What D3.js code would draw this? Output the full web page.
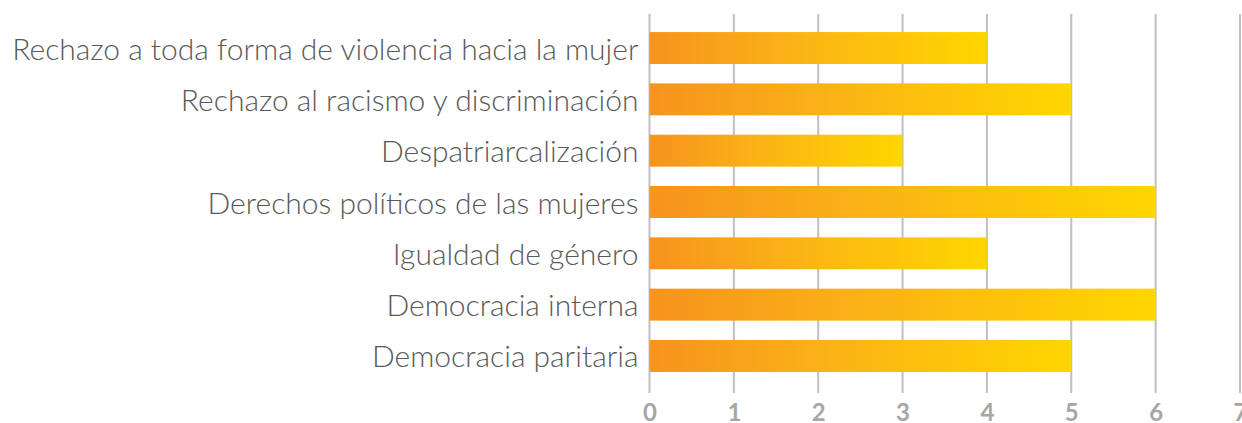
<!DOCTYPE html>
<html>
<head>
<meta charset="utf-8">
<script src="https://cdn.jsdelivr.net/npm/d3@7"></script>
<style>
  body { margin: 0; background: #fff; }
  svg { display: block; }
</style>
</head>
<body>
<svg id="chart"></svg>
<script>
// data, top to bottom
const categories = [
  "Rechazo a toda forma de violencia hacia la mujer",
  "Rechazo al racismo y discriminación",
  "Despatriarcalización",
  "Derechos políticos de las mujeres",
  "Igualdad de género",
  "Democracia interna",
  "Democracia paritaria"
];
const values = [4, 5, 3, 6, 4, 6, 5];
const tickValues = [0, 1, 2, 3, 4, 5, 6, 7];

const width = 1242, height = 423;

const svg = d3.select("#chart")
  .attr("width", width)
  .attr("height", height);

const xScale = d3.scaleLinear()
  .domain([0, 7])
  .range([649.5, 1240]);

const yScale = d3.scaleBand()
  .domain(categories)
  .range([22.3, 381.7])
  .paddingInner(0.377)
  .paddingOuter(0.19);

// gradient for bars
const defs = svg.append("defs");
const grad = defs.append("linearGradient")
  .attr("id", "barGrad")
  .attr("x1", "0%").attr("x2", "100%")
  .attr("y1", "0%").attr("y2", "0%");
grad.append("stop").attr("offset", "0%").attr("stop-color", "#F7931E");
grad.append("stop").attr("offset", "45%").attr("stop-color", "#FBB416");
grad.append("stop").attr("offset", "100%").attr("stop-color", "#FFD600");

// gridlines
svg.append("g")
  .selectAll("line")
  .data(tickValues)
  .enter()
  .append("line")
  .attr("x1", d => xScale(d))
  .attr("x2", d => xScale(d))
  .attr("y1", 14)
  .attr("y2", 393)
  .attr("stroke", "#BFBFBF")
  .attr("stroke-width", 2);

// bars
svg.append("g")
  .selectAll("rect")
  .data(categories)
  .enter()
  .append("rect")
  .attr("x", xScale(0))
  .attr("y", d => yScale(d))
  .attr("width", (d, i) => xScale(values[i]) - xScale(0))
  .attr("height", yScale.bandwidth())
  .attr("fill", "url(#barGrad)");

// category labels
const yAxis = svg.append("g")
  .attr("transform", `translate(${xScale(0) - 11}, 1)`)
  .call(d3.axisLeft(yScale).tickSize(0).tickPadding(0));
yAxis.select(".domain").remove();
yAxis.selectAll("text")
  .attr("dy", "0.35em")
  .style("font-family", "Lato")
  .style("font-weight", "300")
  .style("font-size", "30px")
  .style("fill", "#595959");

// x axis tick labels (cut by the bottom edge, as in the source)
const xAxis = svg.append("g")
  .attr("transform", "translate(0, 421)")
  .call(d3.axisBottom(xScale).tickValues(tickValues).tickFormat(d3.format("d")).tickSize(0).tickPadding(0));
xAxis.select(".domain").remove();
xAxis.selectAll("text")
  .attr("y", 0)
  .attr("dy", 0)
  .style("font-family", "Lato")
  .style("font-weight", "700")
  .style("font-size", "24px")
  .style("fill", "#A6A6A6");
</script>
</body>
</html>
